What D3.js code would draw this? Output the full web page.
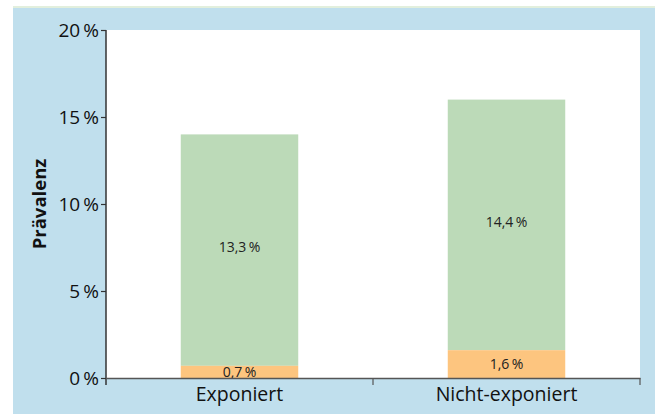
<!DOCTYPE html>
<html>
<head>
<meta charset="utf-8">
<script src="https://cdn.jsdelivr.net/npm/d3@7"></script>
<style>
  html, body { margin: 0; padding: 0; background: #fff; }
  svg { display: block; font-family: "Open Sans", "Noto Sans", sans-serif; }
</style>
</head>
<body>
<div id="chart"></div>
<script>
// data
const categories = ['Exponiert', 'Nicht-exponiert'];
const lowerValues = [0.7, 1.6];    // orange segment
const upperValues = [13.3, 14.4];  // green segment
const yTicks = [0, 5, 10, 15, 20];

const W = 655, H = 414;
const plot = { left: 106, right: 640, top: 30, bottom: 378 };

const svg = d3.select('#chart').append('svg')
    .attr('width', W)
    .attr('height', H);

// background panel
svg.append('rect').attr('x', 13).attr('y', 6).attr('width', W - 13).attr('height', 2).attr('fill', '#e2efdd');
svg.append('rect').attr('x', 13).attr('y', 8).attr('width', W - 13).attr('height', H - 8).attr('fill', '#c0dfed');
svg.append('rect')
    .attr('x', plot.left).attr('y', plot.top)
    .attr('width', plot.right - plot.left).attr('height', plot.bottom - plot.top)
    .attr('fill', '#fff');

const x = d3.scaleBand().domain(categories).range([plot.left, plot.right]).paddingInner(0.56).paddingOuter(0.28);
const y = d3.scaleLinear().domain([0, 20]).range([plot.bottom, plot.top]);

const fmt = v => String(v).replace('.', ',') + '\u2009%';

// bars
const g = svg.append('g');
categories.forEach((c, i) => {
    const lo = lowerValues[i], up = upperValues[i];
    g.append('rect')
        .attr('x', x(c)).attr('width', x.bandwidth())
        .attr('y', y(lo + up)).attr('height', y(lo) - y(lo + up))
        .attr('fill', '#bcdab8');
    g.append('rect')
        .attr('x', x(c)).attr('width', x.bandwidth())
        .attr('y', y(lo)).attr('height', y(0) - y(lo))
        .attr('fill', '#fdc57f');
    g.append('text')
        .attr('x', x(c) + x.bandwidth() / 2)
        .attr('y', (y(lo) + y(lo + up)) / 2 - 3)
        .attr('dy', '0.35em')
        .attr('text-anchor', 'middle')
        .attr('font-size', 14)
        .attr('fill', '#222')
        .text(fmt(up));
    g.append('text')
        .attr('x', x(c) + x.bandwidth() / 2)
        .attr('y', (y(0) + y(lo)) / 2)
        .attr('dy', '0.35em')
        .attr('text-anchor', 'middle')
        .attr('font-size', 14)
        .attr('fill', '#222')
        .text(fmt(lo));
});

// y axis
const yAxis = svg.append('g')
    .attr('transform', `translate(${plot.left},0)`)
    .call(d3.axisLeft(y).tickValues(yTicks).tickSize(5).tickSizeOuter(0).tickFormat(d => d + '\u2009%'));
yAxis.select('.domain').attr('stroke', '#333').attr('stroke-width', 1.5)
    .attr('d', `M0,${plot.top}V${plot.bottom + 7}`);
yAxis.selectAll('.tick line').attr('stroke', '#333').attr('stroke-width', 1.2);
yAxis.selectAll('.tick text').attr('font-size', 19).attr('fill', '#111').attr('x', -7)
    .attr('font-family', '"Open Sans", sans-serif');

// x axis
const xAxis = svg.append('g')
    .attr('transform', `translate(0,${plot.bottom})`)
    .call(d3.axisBottom(x).tickSize(0).tickSizeOuter(0));
xAxis.select('.domain').attr('stroke', '#555').attr('stroke-width', 1.5);
xAxis.selectAll('.tick text').attr('font-size', 19.5).attr('fill', '#111').attr('dy', '1.05em')
    .attr('font-family', '"Open Sans", sans-serif');
// separators between categories
const seps = categories.slice(1).map((c, i) => (x(categories[i]) + x.bandwidth() + x(c)) / 2).concat([plot.right]);
xAxis.selectAll('.sep').data(seps).enter().append('line')
    .attr('x1', d => d).attr('x2', d => d).attr('y1', 0).attr('y2', 7)
    .attr('stroke', '#555').attr('stroke-width', 1.2);

// y title
svg.append('text')
    .attr('transform', `translate(46,${(plot.top + plot.bottom) / 2}) rotate(-90)`)
    .attr('text-anchor', 'middle')
    .attr('font-size', 18.5)
    .attr('font-weight', 'bold')
    .attr('fill', '#111')
    .text('Prävalenz');
</script>
</body>
</html>
